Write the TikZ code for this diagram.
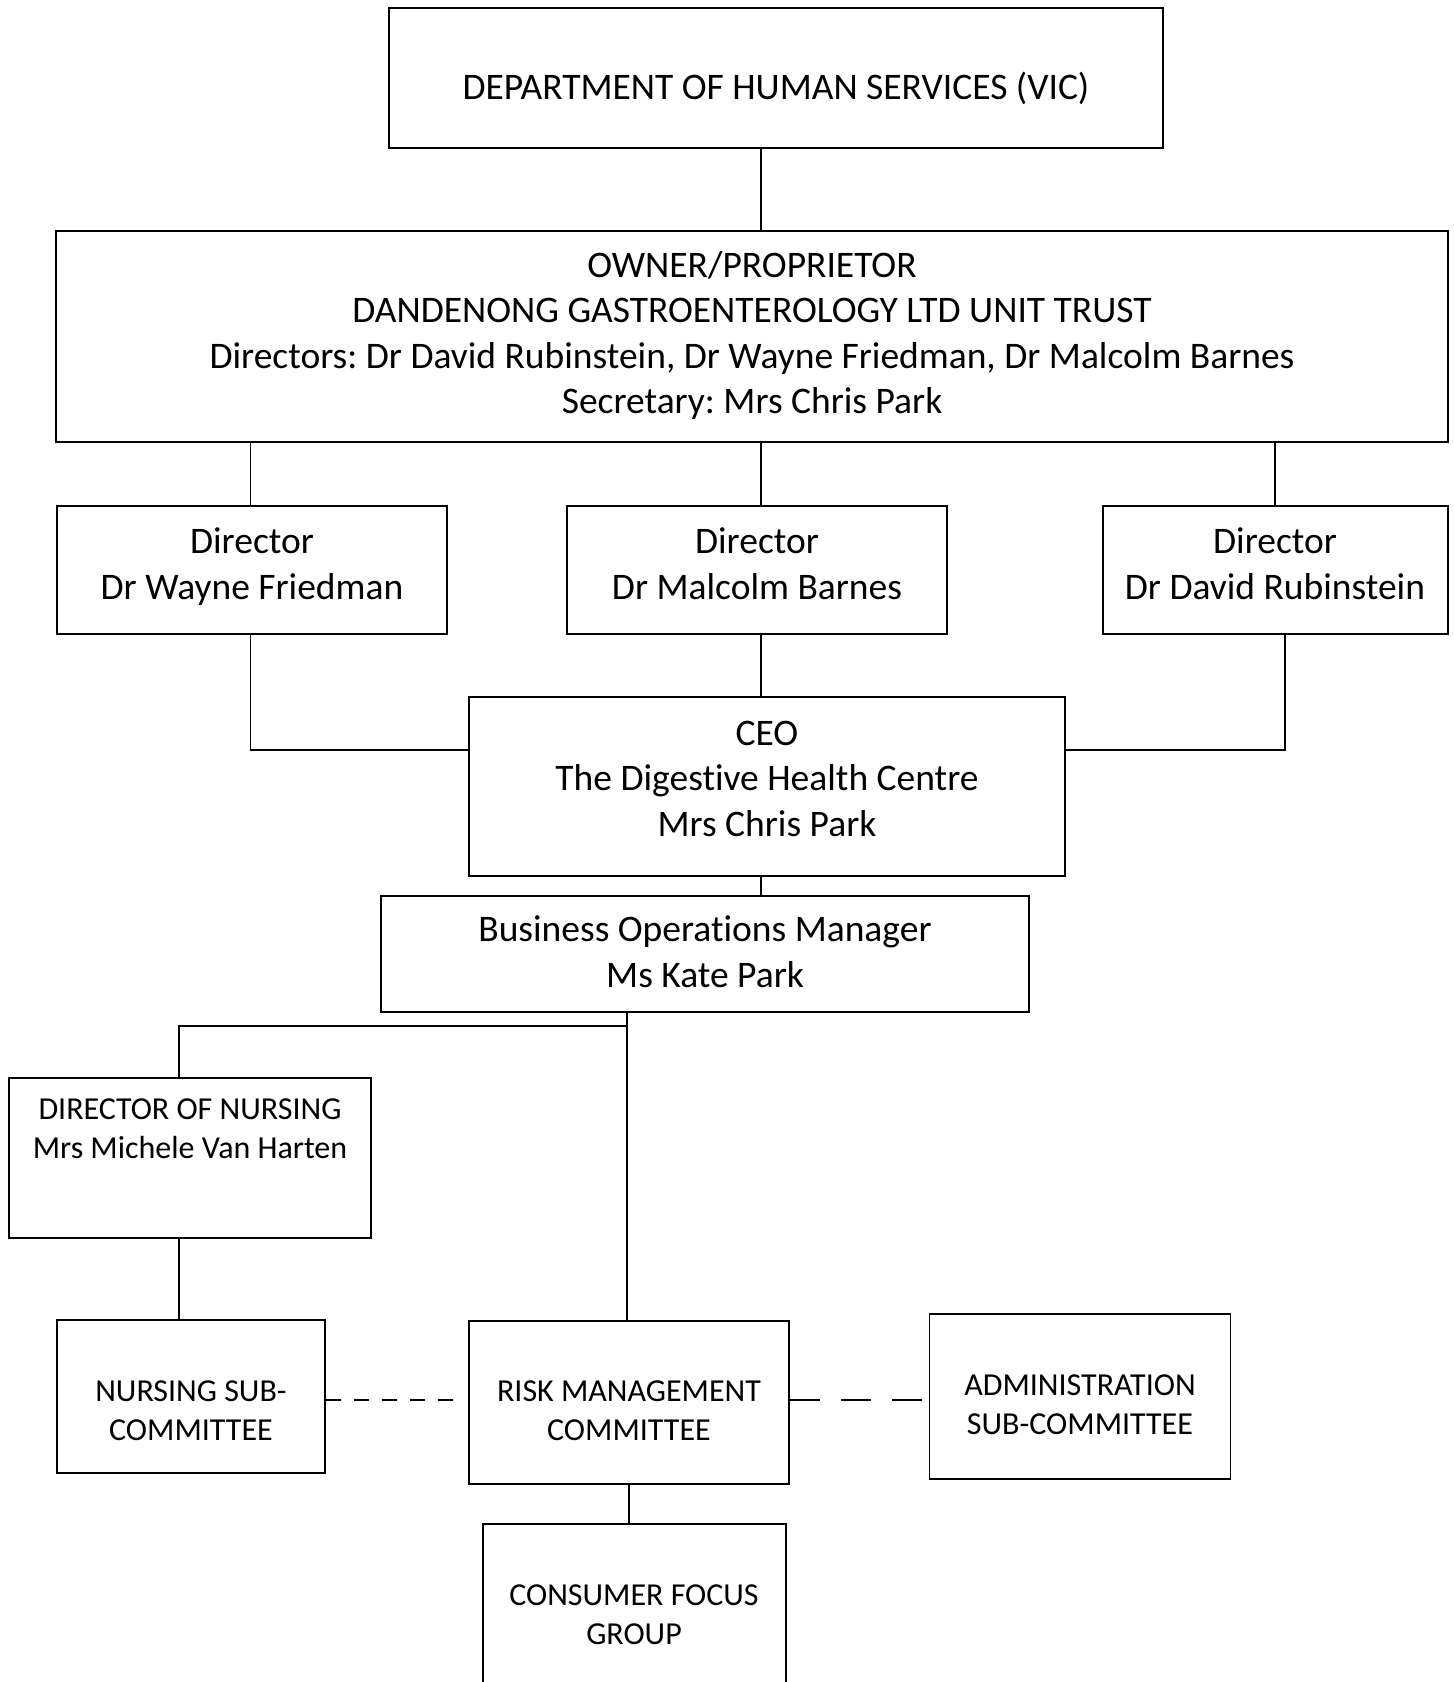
\documentclass[tikz,border=0pt]{standalone}
\usepackage{fontspec}
\setmainfont{Carlito}[RawFeature={-liga;-clig;-calt;-dlig}]
\newcommand\bigtxt{\frenchspacing\fontsize{37.5}{45.5}\selectfont}
\newcommand\smalltxt{\frenchspacing\fontsize{32}{39}\selectfont}
\begin{document}
\begin{tikzpicture}[x=1pt,y=-1pt,
  box/.style={draw, line width=1.8pt, rectangle, inner sep=0},
  txt/.style={align=center, inner sep=0, font=\bigtxt},
  stxt/.style={align=center, inner sep=0, font=\smalltxt},
  conn/.style={line width=1.5pt},
]
\useasboundingbox (0,0) rectangle (1454,1682);
\clip (0,0) rectangle (1454,1682);

% boxes
\node[box, minimum width=774, minimum height=140] (dhs) at (776,78) {};
\node[box, minimum width=1392, minimum height=211] (owner) at (752,336.5) {};
\node[box, minimum width=390, minimum height=128] (wayne) at (252,570) {};
\node[box, minimum width=380, minimum height=128] (malcolm) at (757,570) {};
\node[box, minimum width=345, minimum height=128] (david) at (1275.5,570) {};
\node[box, minimum width=596, minimum height=179] (ceo) at (767,786.5) {};
\node[box, minimum width=648, minimum height=116] (bom) at (705,954) {};
\node[box, minimum width=362, minimum height=160] (don) at (190,1158) {};
\node[box, minimum width=268, minimum height=153] (nurs) at (191,1396.5) {};
\node[box, minimum width=320, minimum height=163] (risk) at (629,1402.5) {};
\node[box, minimum width=301, minimum height=165] (admin) at (1080,1396.5) {};
\node[box, minimum width=303, minimum height=196] (cons) at (634.5,1622) {};

% texts
\node[txt] (dhsT) at (776,90.5) {\strut DEPARTMENT OF HUMAN SERVICES (VIC)};
\node[txt] (ownerT) at (752,336.5) {\strut OWNER/PROPRIETOR\\ \strut DANDENONG GASTROENTEROLOGY LTD UNIT TRUST\\ \strut Directors: Dr David Rubinstein, Dr Wayne Friedman, Dr Malcolm Barnes\\ \strut Secretary: Mrs Chris Park};
\node[txt] (wayneT) at (252,567.5) {\strut Director\\ \strut Dr Wayne Friedman};
\node[txt] (malcolmT) at (757,567.5) {\strut Director\\ \strut Dr Malcolm Barnes};
\node[txt] (davidT) at (1275,567.5) {\strut Director\\ \strut Dr David Rubinstein};
\node[txt] (ceoT) at (767,781.5) {\strut CEO\\ \strut The Digestive Health Centre\\ \strut Mrs Chris Park};
\node[txt] (bomT) at (705,955.5) {\strut Business Operations Manager\\ \strut Ms Kate Park};
\node[stxt] (donT) at (190,1131.3) {\strut DIRECTOR OF NURSING\\ \strut Mrs Michele Van Harten};
\node[stxt] (nursT) at (191,1413.3) {\strut NURSING SUB-\\ \strut COMMITTEE};
\node[stxt] (riskT) at (629,1413.3) {\strut RISK MANAGEMENT\\ \strut COMMITTEE};
\node[stxt] (adminT) at (1080,1407.3) {\strut ADMINISTRATION\\ \strut SUB-COMMITTEE};
\node[stxt] (consT) at (634,1617.3) {\strut CONSUMER FOCUS\\ \strut GROUP};

% helper coordinates
\coordinate (spine) at (761,0);
\coordinate (wx) at (250.5,0);
\coordinate (dx) at (1275,0);
\coordinate (dx2) at (1285,0);
\coordinate (cj) at (0,750);
\coordinate (bx) at (627,1026);
\coordinate (nx) at (179,0);
\coordinate (rx) at (629,0);
\coordinate (dy) at (0,1400);
\coordinate (le) at (453,1400);
\coordinate (re) at (922,1400);

% connectors
\draw[conn] (spine |- dhs.south) -- (spine |- owner.north);
\draw[conn] (wx |- owner.south) -- (wx |- wayne.north);
\draw[conn] (spine |- owner.south) -- (spine |- malcolm.north);
\draw[conn] (dx |- owner.south) -- (dx |- david.north);
\draw[conn] (wx |- wayne.south) |- (ceo.west |- cj);
\draw[conn] (spine |- malcolm.south) -- (spine |- ceo.north);
\draw[conn] (dx2 |- david.south) |- (ceo.east |- cj);
\draw[conn] (spine |- ceo.south) -- (spine |- bom.north);
\draw[conn] (bx |- bom.south) -- (bx |- risk.north);
\draw[conn] (bx) -| (nx |- don.north);
\draw[conn] (nx |- don.south) -- (nx |- nurs.north);
\draw[conn] (rx |- risk.south) -- (rx |- cons.north);
\draw[conn, dash pattern=on 15pt off 13pt] (nurs.east |- dy) -- (le);
\draw[conn, dash pattern=on 30pt off 21pt] (risk.east |- dy) -- (re);
\end{tikzpicture}
\end{document}
